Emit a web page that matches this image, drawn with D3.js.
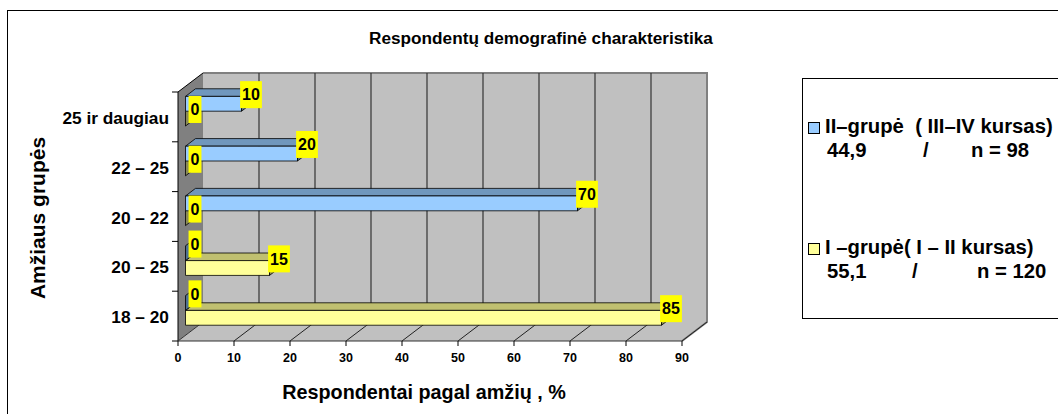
<!DOCTYPE html>
<html>
<head>
<meta charset="utf-8">
<script src="https://cdn.jsdelivr.net/npm/d3@7"></script>
<style>
  body { margin: 0; background: #ffffff; }
  text { font-family: "Liberation Sans", Arial, sans-serif; font-weight: bold; fill: #000; white-space: pre; }
</style>
</head>
<body>
<div id="chart"></div>
<script>
// Chart data
const categories = ["25 ir daugiau", "22 – 25", "20 – 22", "20 – 25", "18 – 20"];
const seriesKeys = ["II", "I"];
const seriesII = [10, 20, 70, 0, 0];   // II–grupė (III–IV kursas)
const seriesI = [0, 0, 0, 15, 85];     // I–grupė (I–II kursas)
const xTicks = [0, 10, 20, 30, 40, 50, 60, 70, 80, 90];
const legendNames = ["II–grupė  ( III–IV kursas)", "I –grupė( I – II kursas)"];
const legendShares = ["44,9", "55,1"];
const legendCounts = ["n = 98", "n = 120"];

const width = 1058, height = 414;
const depth = [25, -19];          // projection of full plot depth
const barDepth = [0.3, 0.7];      // bars sit between these depth fractions

const colors = {
  II: { front: "#99ccff", top: "#7097bd", end: "#4f7191" },
  I: { front: "#ffff99", top: "#c0c070", end: "#8a8a55" }
};

const svg = d3.select("#chart").append("svg")
  .attr("width", width)
  .attr("height", height);

// outer chart frame
svg.append("rect")
  .attr("x", 7.5).attr("y", 10.5)
  .attr("width", 1100).attr("height", 500)
  .attr("fill", "#fff").attr("stroke", "#000");

const x = d3.scaleLinear().domain([0, 90]).range([178, 682]);
const y = d3.scaleBand().domain(categories).range([92, 341]);
const ySub = d3.scaleBand().domain(seriesKeys).range([0, y.step()]).paddingOuter(0.68);

// project a point at front-plane coords into the given depth fraction
const P = (px, py, d) => [px + d * depth[0], py + d * depth[1]];
const poly = pts => "M" + pts.map(p => p.join(",")).join("L") + "Z";

const x0 = x(0), x1 = x(90), yTop = y.range()[0], yBot = y.range()[1];

// walls and floor
svg.append("path")
  .attr("d", poly([P(x0, yTop, 1), P(x1, yTop, 1), P(x1, yBot, 1), P(x0, yBot, 1)]))
  .attr("fill", "#c0c0c0").attr("stroke", "none");
svg.append("path")
  .attr("d", poly([P(x0, yTop, 0), P(x0, yTop, 1), P(x0, yBot, 1), P(x0, yBot, 0)]))
  .attr("fill", "#808080").attr("stroke", "none");
svg.append("path")
  .attr("d", poly([P(x0, yBot, 0), P(x1, yBot, 0), P(x1, yBot, 1), P(x0, yBot, 1)]))
  .attr("fill", "#c0c0c0").attr("stroke", "none");

// back wall edge lines
svg.append("path")
  .attr("d", "M" + P(x0, yTop, 1).join(",") + "L" + P(x1, yTop, 1).join(",") + "L" + P(x1, yBot, 1).join(",") + "L" + P(x1, yBot, 0).join(","))
  .attr("fill", "none").attr("stroke", "#808080").attr("stroke-width", 2);

// gridlines on back wall and floor
xTicks.slice(1, -1).forEach(t => {
  const a = P(x(t), yTop, 1), b = P(x(t), yBot, 1);
  svg.append("line").attr("x1", a[0]).attr("y1", a[1]).attr("x2", b[0]).attr("y2", b[1])
    .attr("stroke", "#333").attr("stroke-width", 1.2);
});
xTicks.slice(1).forEach(t => {
  const a = P(x(t), yBot, 0), b = P(x(t), yBot, 1);
  svg.append("line").attr("x1", a[0]).attr("y1", a[1]).attr("x2", b[0]).attr("y2", b[1])
    .attr("stroke", "#222").attr("stroke-width", 1);
});

// left wall outline and front axis lines
svg.append("path")
  .attr("d", "M" + P(x0, yBot, 0).join(",") + "L" + P(x0, yTop, 0).join(",") + "L" + P(x0, yTop, 1).join(","))
  .attr("fill", "none").attr("stroke", "#000");
svg.append("path")
  .attr("d", "M" + P(x0, yBot, 1).join(",") + "L" + P(x0, yBot, 0).join(",") + "L" + P(x1, yBot, 0).join(","))
  .attr("fill", "none").attr("stroke", "#333");

// axis ticks
const catEdges = categories.map(c => y(c)).concat([yBot]);
svg.append("g").selectAll("line").data(catEdges).join("line")
  .attr("x1", x0 - 6).attr("x2", x0).attr("y1", d => d).attr("y2", d => d)
  .attr("stroke", "#000");
svg.append("g").selectAll("line").data(xTicks).join("line")
  .attr("x1", d => x(d)).attr("x2", d => x(d)).attr("y1", yBot).attr("y2", yBot + 5)
  .attr("stroke", "#000");

svg.append("g").selectAll("text").data(xTicks).join("text")
  .attr("x", d => x(d)).attr("y", yBot + 21)
  .attr("text-anchor", "middle").attr("font-size", 12.5)
  .text(d => d);

svg.append("g").selectAll("text").data(categories).join("text")
  .attr("x", 169).attr("y", d => y(d) + y.step() / 2 + 7)
  .attr("text-anchor", "end").attr("font-size", 17.3)
  .text(d => d);

// bars: build a flat list and draw from bottom to top
const bars = [];
categories.forEach((c, i) => {
  bars.push({ cat: c, key: "II", value: seriesII[i] });
  bars.push({ cat: c, key: "I", value: seriesI[i] });
});
bars.forEach(b => {
  b.y0 = y(b.cat) + ySub(b.key);
  b.y1 = b.y0 + ySub.bandwidth();
});
const drawOrder = bars.slice().sort((a, b) => b.y0 - a.y0);

const gBars = svg.append("g");
drawOrder.forEach(b => {
  const col = colors[b.key];
  const xa = x(0), xb = x(b.value);
  const [d1, d2] = barDepth;
  if (b.value > 0) {
    gBars.append("path")
      .attr("d", poly([P(xa, b.y0, d1), P(xb, b.y0, d1), P(xb, b.y0, d2), P(xa, b.y0, d2)]))
      .attr("fill", col.top).attr("stroke", "#000").attr("stroke-width", 0.8);
    gBars.append("path")
      .attr("d", poly([P(xa, b.y0, d1), P(xb, b.y0, d1), P(xb, b.y1, d1), P(xa, b.y1, d1)]))
      .attr("fill", col.front).attr("stroke", "#000").attr("stroke-width", 0.8);
  }
  gBars.append("path")
    .attr("d", poly([P(xb, b.y0, d1), P(xb, b.y0, d2), P(xb, b.y1, d2), P(xb, b.y1, d1)]))
    .attr("fill", col.end).attr("stroke", "#000").attr("stroke-width", 0.8);
});

// data labels
const gLab = svg.append("g");
bars.forEach(b => {
  const [lx, ly] = P(x(b.value), b.y0, 0.68);
  const g = gLab.append("g").attr("transform", `translate(${lx},${ly + 5.5})`);
  const t = g.append("text").attr("text-anchor", "middle").attr("dy", "0.36em")
    .attr("font-size", 16).text(b.value);
  const w = t.node().getComputedTextLength() + 4;
  g.insert("rect", "text").attr("x", -w / 2).attr("y", -13.5)
    .attr("width", w).attr("height", 27).attr("fill", "#ffff00");
});

// titles
svg.append("text").attr("x", 541).attr("y", 44).attr("text-anchor", "middle")
  .attr("font-size", 17.2).text("Respondentų demografinė charakteristika");
svg.append("text").attr("x", 424).attr("y", 399).attr("text-anchor", "middle")
  .attr("font-size", 19.8).text("Respondentai pagal amžių , %");
svg.append("text").attr("transform", "translate(45,218) rotate(-90)")
  .attr("text-anchor", "middle").attr("font-size", 21).text("Amžiaus grupės");

// legend
svg.append("rect").attr("x", 802.5).attr("y", 78.5).attr("width", 300).attr("height", 240)
  .attr("fill", "#fff").attr("stroke", "#000");
const legendY = [133, 254];
const slashX = [923, 912];
const countX = [971, 977];
seriesKeys.forEach((k, i) => {
  svg.append("rect").attr("x", 808.5).attr("y", legendY[i] - 10.5).attr("width", 11).attr("height", 11)
    .attr("fill", colors[k].front).attr("stroke", "#000");
  svg.append("text").attr("x", 825).attr("y", legendY[i]).attr("font-size", 20.3)
    .text(legendNames[i]);
  const line2 = svg.append("text").attr("y", legendY[i] + 24).attr("font-size", 20.3);
  line2.append("tspan").attr("x", 827).text(legendShares[i]);
  line2.append("tspan").attr("x", slashX[i]).text("/");
  line2.append("tspan").attr("x", countX[i]).text(legendCounts[i]);
});
</script>
</body>
</html>
